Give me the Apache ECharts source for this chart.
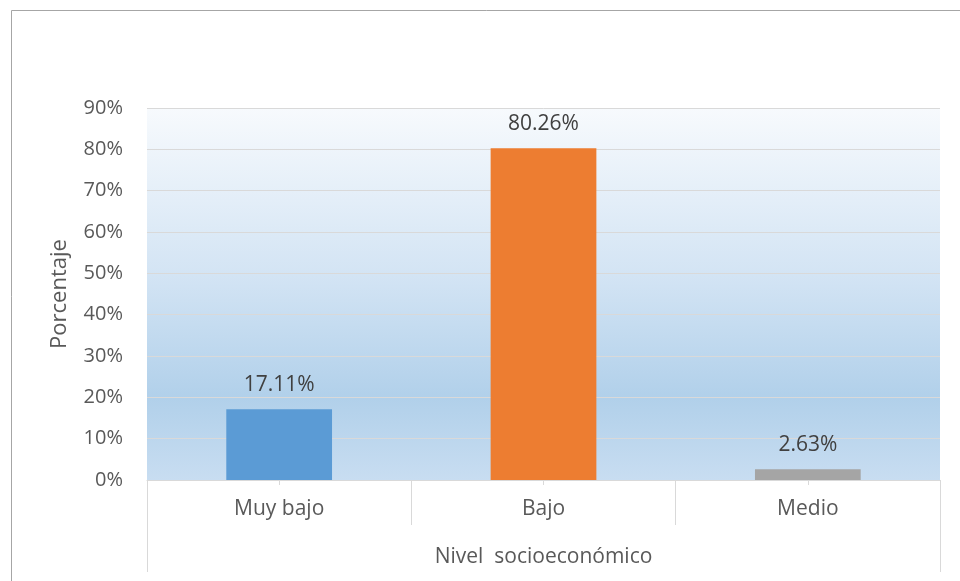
<!DOCTYPE html>
<html>
<head>
<meta charset="utf-8">
<script src="https://cdn.jsdelivr.net/npm/echarts@6/dist/echarts.min.js"></script>
<style>html,body{margin:0;padding:0;background:#fff;}#c{width:960px;height:581px;}</style>
</head>
<body>
<div id="c"></div>
<script>
var categories = ['Muy bajo', 'Bajo', 'Medio'];
var values = [17.11, 80.26, 2.63];
var barColors = ['#5b9bd5', '#ed7d31', '#a5a5a5'];
var groupLabel = ['Nivel  socioeconómico'];
var yMax = 90;
var yStep = 10;
var yName = 'Porcentaje';

var font = '"Open Sans", "Noto Sans", sans-serif';
var chart = echarts.init(document.getElementById('c'), null, {renderer: 'canvas'});
chart.setOption({
  animation: false,
  backgroundColor: '#ffffff',
  graphic: [{
    type: 'rect', left: 9, top: 8, z: -10,
    shape: {x: 0, y: 0, width: 1000, height: 1000},
    style: {fill: 'none', stroke: '#a6a6a6', lineWidth: 1}
  }],
  grid: {left: 147, right: 20, top: 108, bottom: 101,
    show: true, borderWidth: 0,
    backgroundColor: new echarts.graphic.LinearGradient(0, 0, 0, 1, [
      {offset: 0, color: '#f7fafd'},
      {offset: 0.45, color: '#d3e4f4'},
      {offset: 0.78, color: '#b1d0ea'},
      {offset: 1, color: '#c8ddf1'}
    ])
  },
  xAxis: [{
    type: 'category', data: categories, position: 'bottom',
    axisLine: {show: true, lineStyle: {color: '#d9d9d9', width: 1}},
    axisTick: {show: true, alignWithLabel: false, length: 45, lineStyle: {color: '#d9d9d9'}},
    axisLabel: {margin: 19, fontSize: 21, color: '#595959', fontFamily: font},
    splitLine: {show: false}
  }, {
    type: 'category', data: categories, position: 'bottom', gridIndex: 0,
    axisLine: {show: false},
    axisTick: {show: true, alignWithLabel: true, length: 5, lineStyle: {color: '#d9d9d9'}},
    axisLabel: {show: false}
  }, {
    type: 'category', data: groupLabel, position: 'bottom', gridIndex: 0,
    axisLine: {show: false},
    axisTick: {show: true, alignWithLabel: false, length: 92, lineStyle: {color: '#d9d9d9'}},
    axisLabel: {margin: 67, fontSize: 21, color: '#595959', fontFamily: font}
  }],
  yAxis: {
    type: 'value', min: 0, max: yMax, interval: yStep,
    name: yName, nameLocation: 'middle', nameGap: 76, nameRotate: 90,
    nameTextStyle: {fontSize: 22, color: '#595959', fontFamily: font},
    axisLine: {show: false}, axisTick: {show: false},
    axisLabel: {margin: 24, fontSize: 20, color: '#595959', fontFamily: font,
      formatter: function (v) { return v + '%'; }},
    splitLine: {show: true, lineStyle: {color: '#d9d9d9', width: 1}}
  },
  series: [{
    type: 'bar', xAxisIndex: 0,
    data: values.map(function (v, i) { return {value: v, itemStyle: {color: barColors[i]}}; }),
    barWidth: '40%',
    label: {show: true, position: 'top', distance: 14, fontSize: 21, color: '#404040', fontFamily: font,
      formatter: function (p) { return p.value.toFixed(2) + '%'; }}
  }]
});
</script>
</body>
</html>
